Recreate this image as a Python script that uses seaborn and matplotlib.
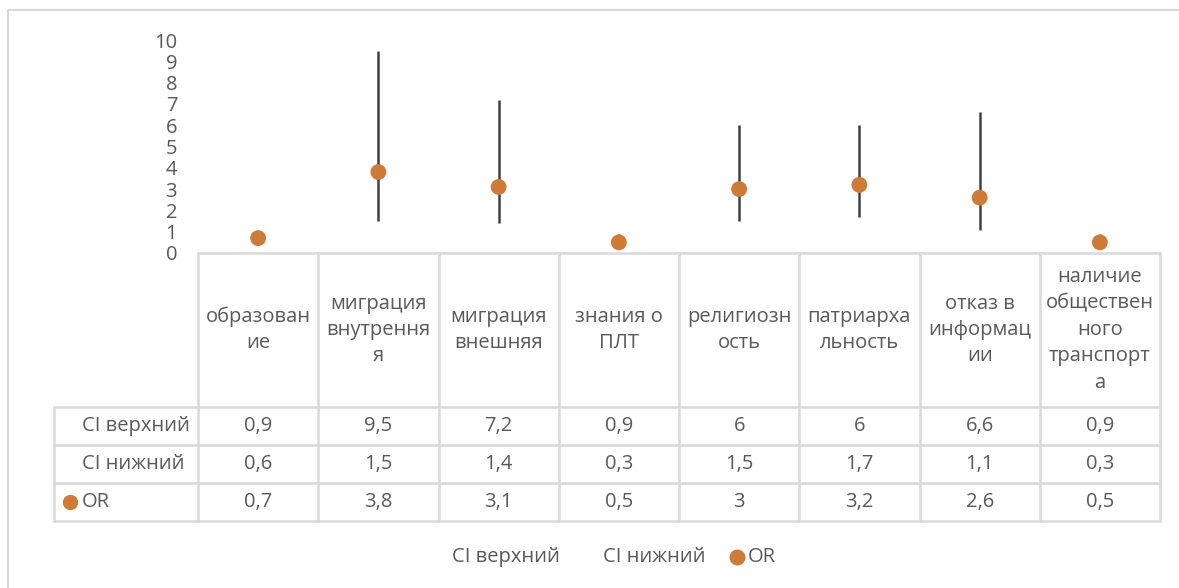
import matplotlib
matplotlib.use("Agg")
import matplotlib.pyplot as plt
import matplotlib.transforms as mtransforms
from matplotlib.lines import Line2D
import seaborn as sns
import pandas as pd

# ---- data ----
categories = ["образован\nие", "миграция\nвнутрення\nя", "миграция\nвнешняя",
              "знания о\nПЛТ", "религиозн\nость", "патриарха\nльность",
              "отказ в\nинформац\nии", "наличие\nобществен\nного\nтранспорт\nа"]
ci_upper = [0.9, 9.5, 7.2, 0.9, 6, 6, 6.6, 0.9]
ci_lower = [0.6, 1.5, 1.4, 0.3, 1.5, 1.7, 1.1, 0.3]
odds_ratio = [0.7, 3.8, 3.1, 0.5, 3, 3.2, 2.6, 0.5]
series_names = ["CI верхний", "CI нижний", "OR"]
y_ticks = list(range(0, 11))

W, H = 1179, 588
TXT = "#595959"
GRID = "#D9D9D9"
DOT = "#CF7A36"
LINE = "#404040"
FS = 14.5

sns.set_theme(style="white")
plt.rcParams["font.family"] = ["Open Sans", "DejaVu Sans"]

fig = plt.figure(figsize=(W / 100, H / 100), dpi=100)
fig.patch.set_facecolor("white")

def fx(px):
    return px / W

def fy(py):
    return 1 - py / H

ax = fig.add_axes([fx(198), fy(253), fx(1160) - fx(198), fy(40) - fy(253)])
ax.set_facecolor("white")

df = pd.DataFrame({"pos": range(len(categories)), "OR": odds_ratio,
                   "lo": ci_lower, "hi": ci_upper})

ax.vlines(df["pos"], df["lo"], df["hi"], color=LINE, lw=1.8, zorder=2)
sns.scatterplot(data=df, x="pos", y="OR", ax=ax, s=130, color=DOT,
                edgecolor="none", linewidth=0, zorder=3, legend=False)

ax.set_xlim(-0.5, len(categories) - 0.5)
ax.set_ylim(0, 10)
ax.set_yticks(y_ticks)
ax.set_yticklabels([str(t) for t in y_ticks], color=TXT, fontsize=FS)
ax.tick_params(axis="y", length=0, pad=15)
ax.set_xticks([])
ax.set_xlabel("")
ax.set_ylabel("")
for s in ax.spines.values():
    s.set_visible(False)

# ---- data table below the axes ----
blend = mtransforms.blended_transform_factory(ax.transData, fig.transFigure)
row_y = [407, 445, 483, 521]
top_y = 253
n = len(categories)

fig.add_artist(Line2D([-0.5, n - 0.5], [fy(top_y), fy(top_y)], transform=blend,
                      color=GRID, lw=1.8, clip_on=False))
for ry in row_y:
    fig.add_artist(Line2D([fx(54), fx(1160)], [fy(ry), fy(ry)],
                          transform=fig.transFigure, color=GRID, lw=1.8))
for k in range(n + 1):
    fig.add_artist(Line2D([k - 0.5, k - 0.5], [fy(top_y), fy(row_y[-1])],
                          transform=blend, color=GRID, lw=1.8, clip_on=False))
fig.add_artist(Line2D([fx(54), fx(54)], [fy(row_y[0]), fy(row_y[-1])],
                      transform=fig.transFigure, color=GRID, lw=1.8))

def fmt(v):
    return f"{v:g}".replace(".", ",")

for i, c in enumerate(categories):
    fig.text(i, fy((top_y + row_y[0]) / 2), c, transform=blend, ha="center",
             va="center", fontsize=FS, color=TXT, linespacing=1.42,
             multialignment="center")

rows = [ci_upper, ci_lower, odds_ratio]
for r, (name, vals) in enumerate(zip(series_names, rows)):
    yc = fy((row_y[r] + row_y[r + 1]) / 2)
    fig.text(fx(82), yc, name, ha="left", va="center", fontsize=FS, color=TXT)
    for i, v in enumerate(vals):
        fig.text(i, yc, fmt(v), transform=blend, ha="center", va="center",
                 fontsize=FS, color=TXT)
fig.add_artist(Line2D([fx(69.5)], [fy((row_y[2] + row_y[3]) / 2)], marker="o",
                      markersize=11, color=DOT, markeredgewidth=0,
                      linestyle="none", transform=fig.transFigure))

# ---- legend (Excel style: blank keys for the high/low series) ----
leg_y = fy(557)
fig.text(fx(452), leg_y, series_names[0], ha="left", va="center",
         fontsize=FS, color=TXT)
fig.text(fx(603), leg_y, series_names[1], ha="left", va="center",
         fontsize=FS, color=TXT)
fig.add_artist(Line2D([fx(737)], [leg_y], marker="o", markersize=11.5,
                      color=DOT, markeredgewidth=0, linestyle="none",
                      transform=fig.transFigure))
fig.text(fx(748), leg_y, series_names[2], ha="left", va="center",
         fontsize=FS, color=TXT)

# chart frame (top and left visible)
fig.add_artist(Line2D([fx(8), 1], [fy(10), fy(10)], transform=fig.transFigure,
                      color=GRID, lw=1.5))
fig.add_artist(Line2D([fx(8), fx(8)], [fy(10), 0], transform=fig.transFigure,
                      color=GRID, lw=1.5))

fig.savefig("out.png", dpi=100)
